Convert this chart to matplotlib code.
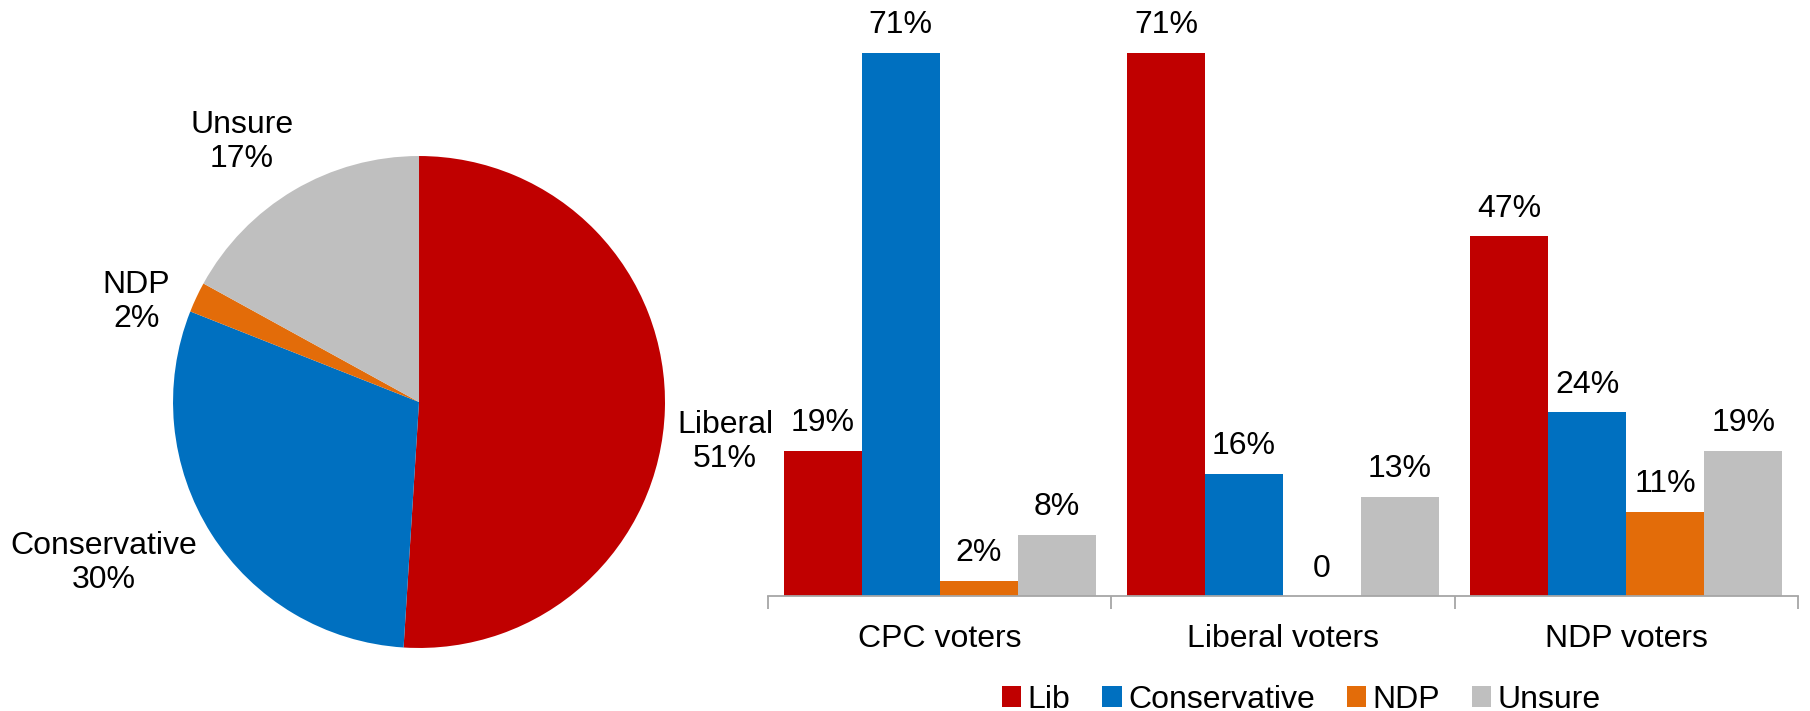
import matplotlib
matplotlib.use("Agg")
import matplotlib.pyplot as plt
import numpy as np

plt.rcParams['font.family'] = ['Liberation Sans', 'DejaVu Sans']

# pie data (overall vote intention)
pie_labels = ["Liberal", "Conservative", "NDP", "Unsure"]
pie_values = [51, 30, 2, 17]

# bar data by current voter group
groups = ["CPC voters", "Liberal voters", "NDP voters"]
series_names = ["Lib", "Conservative", "NDP", "Unsure"]
lib_vals = [19, 71, 47]
con_vals = [71, 16, 24]
ndp_vals = [2, 0, 11]
uns_vals = [8, 13, 19]
bar_text = [
    ["19%", "71%", "47%"],
    ["71%", "16%", "24%"],
    ["2%", "0", "11%"],
    ["8%", "13%", "19%"],
]

colors = ["#C00000", "#0070C0", "#E36C09", "#BFBFBF"]
fs = 23

fig = plt.figure(figsize=(18.1, 7.11), dpi=100)

# ---- bars (drawn first so the pie labels sit on top) ----
ax = fig.add_axes([0.4243, 0.1617, 0.5691, 0.807])
ax.patch.set_visible(False)
x = np.arange(len(groups))
w = 0.227
all_vals = [lib_vals, con_vals, ndp_vals, uns_vals]
for i, (vals, name, c, txt) in enumerate(zip(all_vals, series_names, colors, bar_text)):
    bars = ax.bar(x + (i - 1.5) * w, vals, w, color=c, label=name, linewidth=0)
    ax.bar_label(bars, labels=txt, padding=9, fontsize=fs)

ax.set_xlim(-0.5, 2.5)
ax.set_ylim(0, 75)
for s in ['top', 'right', 'left']:
    ax.spines[s].set_visible(False)
ax.spines['bottom'].set_color('#A6A6A6')
ax.spines['bottom'].set_linewidth(1.3)
ax.set_yticks([])
ax.set_xticks(x)
ax.set_xticklabels(groups, fontsize=fs)
ax.tick_params(axis='x', which='major', length=0, pad=20)
ax.set_xticks([-0.5, 0.5, 1.5, 2.5], minor=True)
ax.tick_params(axis='x', which='minor', length=9, width=1.3, color='#A6A6A6')

# ---- pie ----
ax_pie = fig.add_axes([0.0956, 0.0886, 0.2718, 0.692])
ax_pie.pie(pie_values, colors=colors, startangle=90, counterclock=False,
           wedgeprops=dict(linewidth=0))
ax_pie.set_xlim(-1, 1)
ax_pie.set_ylim(-1, 1)
ax_pie.set_aspect('equal')
label_pos = [(1.244, -0.163), (-1.28, -0.654), (-1.15, 0.407), (-0.72, 1.057)]
for name, val, (lx, ly) in zip(pie_labels, pie_values, label_pos):
    ax_pie.text(lx, ly, "{}\n{}%".format(name, val), ha='center', va='center',
                fontsize=fs, linespacing=1.15)

fig.legend(*ax.get_legend_handles_labels(), loc='center',
           bbox_to_anchor=(0.719, 0.016), ncol=4, frameon=False,
           fontsize=fs, handlelength=0.6, handleheight=0.6, handletextpad=0.2,
           columnspacing=1.0)

fig.savefig("out.png", dpi=100)
